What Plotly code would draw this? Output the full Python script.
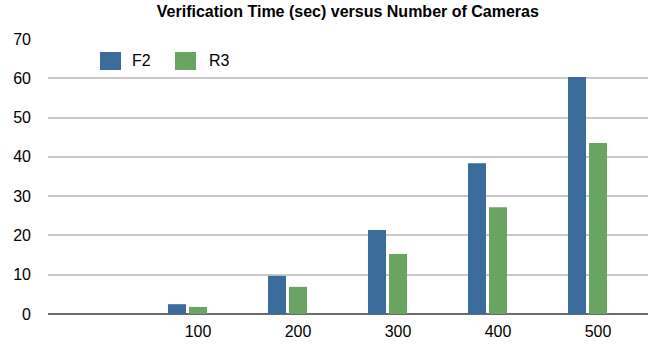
"""Verification time vs number of cameras, grouped bar chart."""

import plotly.graph_objects as go

# data
cameras = [100, 200, 300, 400, 500]
f2_times = [2.5, 9.7, 21.4, 38.4, 60.3]
r3_times = [1.8, 6.9, 15.3, 27.2, 43.5]
y_ticks = [0, 10, 20, 30, 40, 50, 60, 70]

BLUE = "#3a6b9a"
GREEN = "#6aa462"
FONT = "Liberation Sans, Arial, Helvetica, sans-serif"

W, H = 655, 354
L, R, T, B = 48, 7, 39, 40


def px_to_paper(x, y):
    """Convert page pixels to paper coordinates."""
    return (x - L) / (W - L - R), (H - B - y) / (H - T - B)


fig = go.Figure()
fig.add_trace(go.Bar(
    x=cameras, y=f2_times, name="F2",
    marker=dict(color=BLUE, line=dict(width=0)),
    width=18, offset=-30,
))
fig.add_trace(go.Bar(
    x=cameras, y=r3_times, name="R3",
    marker=dict(color=GREEN, line=dict(width=0)),
    width=18, offset=-9,
))

# legend drawn by hand so the swatches match the original size
shapes = []
annotations = []
for (x0, label, color, tx) in [(100, "F2", BLUE, 130), (175, "R3", GREEN, 207)]:
    px0, py0 = px_to_paper(x0, 70)
    px1, py1 = px_to_paper(x0 + 21, 52)
    shapes.append(dict(type="rect", xref="paper", yref="paper",
                       x0=px0, x1=px1, y0=py0, y1=py1,
                       fillcolor=color, line=dict(width=0), layer="above"))
    ax, ay = px_to_paper(tx, 61)
    annotations.append(dict(text=label, xref="paper", yref="paper",
                            x=ax, y=ay, xanchor="left", yanchor="middle",
                            showarrow=False, font=dict(size=16, color="#000")))

fig.update_layout(
    width=W, height=H,
    margin=dict(l=L, r=R, t=T, b=B),
    paper_bgcolor="white", plot_bgcolor="white",
    showlegend=False,
    font=dict(family=FONT, size=16, color="#000"),
    title=dict(text="<b>Verification Time (sec) versus Number of Cameras</b>",
               font=dict(size=16, color="#000"),
               x=0.531, xanchor="center", y=0.967, yanchor="middle"),
    xaxis=dict(range=[-50, 550], tickvals=cameras,
               ticktext=[str(c) for c in cameras],
               showgrid=False, zeroline=False, showline=False,
               ticks="", ticklabelstandoff=6),
    yaxis=dict(range=[0, 70], tickvals=y_ticks,
               showgrid=True, gridcolor="#c8c8c8", gridwidth=1.5,
               zeroline=True, zerolinecolor="#6b6b6b", zerolinewidth=2,
               showline=False, ticks="", ticklabelstandoff=16),
    shapes=shapes,
    annotations=annotations,
)

# drop the browser's default body margin so the figure sits at the page corner
fig.write_html("out.html", config={"displayModeBar": False},
               post_script="document.body.style.margin='0';")
